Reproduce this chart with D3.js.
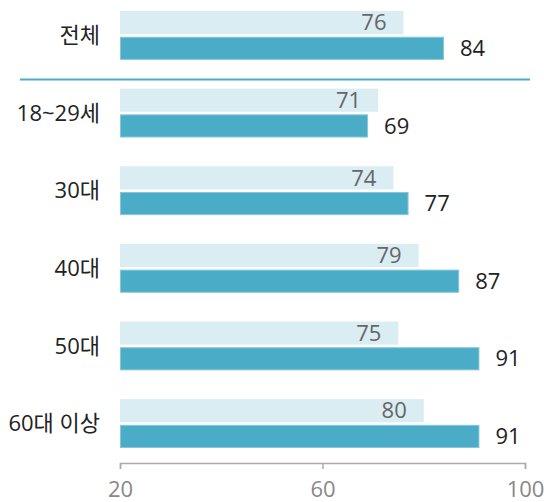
<!DOCTYPE html>
<html>
<head>
<meta charset="utf-8">
<script src="https://cdn.jsdelivr.net/npm/d3@7"></script>
<style>
  body { margin: 0; background: #fff; }
  svg text { font-family: "Open Sans", "Noto Sans CJK KR", sans-serif; }
</style>
</head>
<body>
<div class="chart"></div>
<script>
// data
const categories = ["전체", "18~29세", "30대", "40대", "50대", "60대 이상"];
const prevValues = [76, 71, 74, 79, 75, 80];
const currValues = [84, 69, 77, 87, 91, 91];
const tickValues = [20, 60, 100];

const width = 544;
const height = 502;

const svg = d3.select(".chart")
    .append("svg")
    .attr("width", width)
    .attr("height", height);

// scales
const xScale = d3.scaleLinear().domain([20, 100]).range([120, 525]);
const yScale = d3.scaleBand()
    .domain(categories)
    .range([11, 448])
    .paddingInner(0.37)
    .paddingOuter(0);
const subScale = d3.scaleBand()
    .domain(["prev", "curr"])
    .range([0, yScale.bandwidth()])
    .paddingInner(0.1);

const rows = categories.map((c, i) => ({ cat: c, prev: prevValues[i], curr: currValues[i] }));

// separator under the total row
const sepY = yScale(categories[1]) - 9;
svg.append("line")
    .attr("x1", 20)
    .attr("x2", 530)
    .attr("y1", sepY)
    .attr("y2", sepY)
    .style("stroke", "#4badc6")
    .style("stroke-width", 2);

const groups = svg.append("g")
    .selectAll("g")
    .data(rows)
    .enter()
    .append("g")
    .attr("transform", (d) => `translate(0, ${yScale(d.cat)})`);

// light bars (previous)
groups.append("rect")
    .attr("x", xScale(20))
    .attr("y", subScale("prev"))
    .attr("width", (d) => xScale(d.prev) - xScale(20))
    .attr("height", subScale.bandwidth())
    .style("fill", "#daedf3");

// dark bars (current)
groups.append("rect")
    .attr("x", xScale(20) + 0.5)
    .attr("y", subScale("curr") + 0.5)
    .attr("width", (d) => xScale(d.curr) - xScale(20) - 1)
    .attr("height", subScale.bandwidth() - 1)
    .style("fill", "#4aacc6")
    .style("stroke", "#86c8da")
    .style("stroke-width", 1);

// value labels
groups.append("text")
    .attr("x", (d) => xScale(d.prev) - 17)
    .attr("y", subScale("prev") + subScale.bandwidth() / 2)
    .attr("dy", "0.35em")
    .attr("text-anchor", "end")
    .style("font-size", "22px")
    .style("fill", "#666")
    .text((d) => d.prev);

groups.append("text")
    .attr("x", (d) => xScale(d.curr) + 16)
    .attr("y", subScale("curr") + subScale.bandwidth() / 2)
    .attr("dy", "0.35em")
    .style("font-size", "22px")
    .style("fill", "#222")
    .text((d) => d.curr);

// category labels
groups.append("text")
    .attr("x", 100)
    .attr("y", yScale.bandwidth() / 2)
    .attr("dy", "0.35em")
    .attr("text-anchor", "end")
    .style("font-size", "22px")
    .style("fill", "#222")
    .text((d) => d.cat);

// x axis
const xAxis = d3.axisBottom(xScale)
    .tickValues(tickValues)
    .tickSize(6)
    .tickPadding(12);

const axisG = svg.append("g")
    .attr("transform", `translate(0, 463)`)
    .call(xAxis);
axisG.select(".domain").style("stroke", "#aaa").style("stroke-width", 1.5);
axisG.selectAll(".tick line").style("stroke", "#aaa").style("stroke-width", 1.5);
axisG.selectAll(".tick text")
    .style("font-size", "22px")
    .style("fill", "#888")
    .style("font-family", "'Open Sans', sans-serif");
</script>
</body>
</html>
